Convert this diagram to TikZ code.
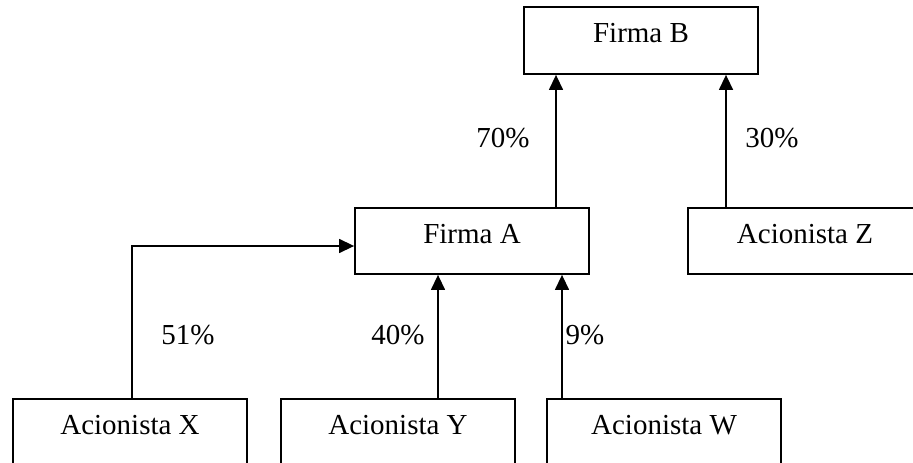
\documentclass[tikz,border=0pt]{standalone}
\usepackage{fontspec}
\setmainfont{Liberation Serif}
\usetikzlibrary{arrows.meta,positioning,calc}

\begin{document}
\begin{tikzpicture}[
    x=1pt, y=-1pt,
    firm/.style = {rectangle, draw, line width=1.8pt, minimum width=234pt, minimum height=66pt, text height=0.7em, text depth=0.55em, inner sep=0pt, align=center},
    share/.style = {inner sep=0pt},
    arrow/.style = {-{Triangle[width=14pt,length=15pt]}, line width=1.4pt}
]
    \clip (0,0) rectangle (913,463);
    \fontsize{29}{34}\selectfont

    % Firms
    \node[firm, minimum height=67pt] (firmB) at (641,40.5) {Firma B};
    \node[firm] (firmA) at (472,241) {Firma A};

    % Shareholders
    \node[firm] (holderZ) at (805,241) {Acionista Z};
    \node[firm] (holderX) at (130,432) {Acionista X};
    \node[firm] (holderY) at (398,432) {Acionista Y};
    \node[firm] (holderW) at (664,432) {Acionista W};

    % Arrows
    \draw[arrow] ([xshift=-85pt]firmB.south |- firmA.north) -- ([xshift=-85pt]firmB.south);
    \draw[arrow] ([xshift=85pt]firmB.south |- holderZ.north) -- ([xshift=85pt]firmB.south);
    \draw[arrow] ([xshift=2pt]holderX.north) |- ([yshift=-5pt]firmA.west);
    \draw[arrow] ([xshift=40pt]holderY.north) -- ([xshift=40pt]holderY.north |- firmA.south);
    \draw[arrow] ([xshift=-102pt]holderW.north) -- ([xshift=-102pt]holderW.north |- firmA.south);

    % Labels
    \node[share] (pctA) at (503,138) {70\%};
    \node[share] (pctZ) at (772,138) {30\%};
    \node[share] (pctX) at (188,335) {51\%};
    \node[share] (pctY) at (398,335) {40\%};
    \node[share] (pctW) at (585,335) {9\%};

\end{tikzpicture}
\end{document}
